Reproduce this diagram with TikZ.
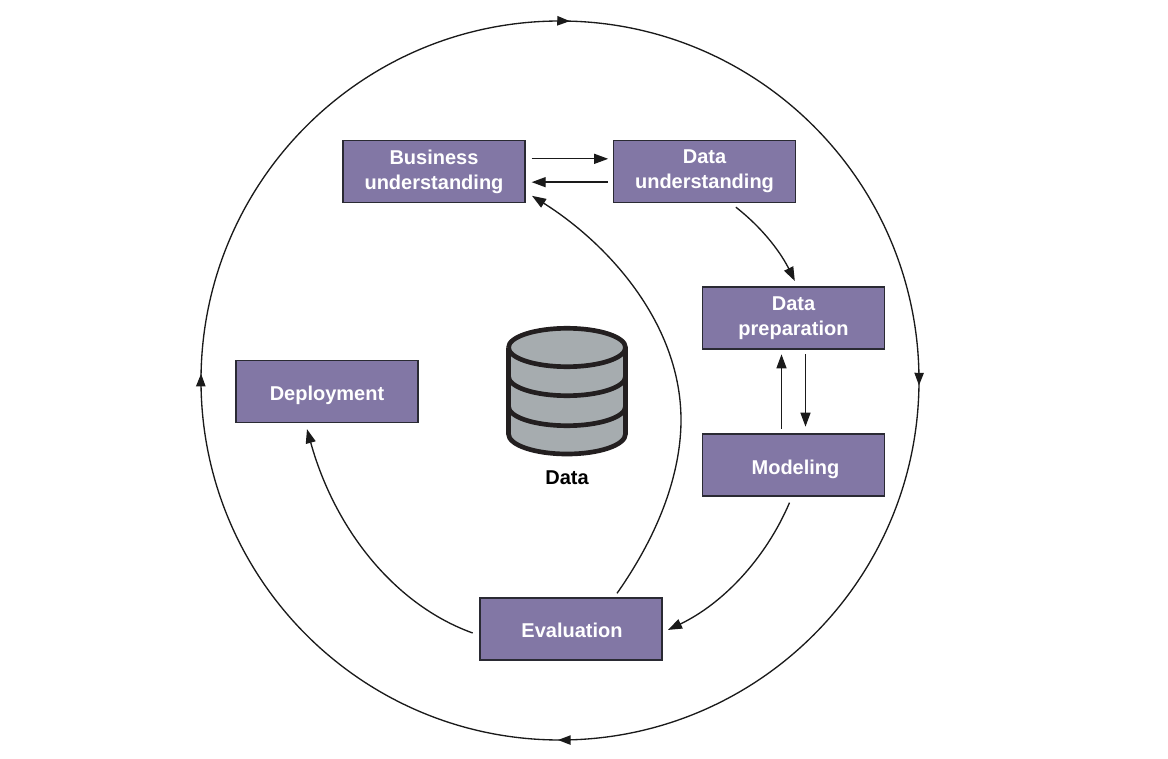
\documentclass[tikz,border=0pt]{standalone}
\usepackage{fontspec}
\setmainfont{Liberation Sans}
\usetikzlibrary{arrows.meta,decorations.markings,calc}
\definecolor{boxfill}{HTML}{8277A5}
\definecolor{boxline}{HTML}{2A2A33}
\definecolor{cylfill}{HTML}{A6ACAF}
\definecolor{cylline}{HTML}{231F20}
\definecolor{inkline}{HTML}{1A1A1A}
\tikzset{
  x=0.75pt,y=-0.75pt,
  stage/.style={draw=boxline,line width=1pt,fill=boxfill,text=white,font=\bfseries\fontsize{15}{18.6}\selectfont,
    minimum width=136.5pt,minimum height=46.5pt,inner sep=0pt,align=center,anchor=center},
  tip/.style={-{Triangle[length=10.5pt,width=7.5pt]}},
  flow/.style={tip,draw=inkline,line width=1pt},
  cylband/.style={draw=cylline,line width=3.5pt},
  ringtip/.style={decoration={markings,
    mark=at position 0.0030 with {\arrow{Triangle[length=9.5pt,width=7pt]}},
    mark=at position 0.2544 with {\arrow{Triangle[length=9.5pt,width=7pt]}},
    mark=at position 0.5022 with {\arrow{Triangle[length=9.5pt,width=7pt]}},
    mark=at position 0.7509 with {\arrow{Triangle[length=9.5pt,width=7pt]}}},postaction={decorate}},
}
\begin{document}
\begin{tikzpicture}
\useasboundingbox (0,0) rectangle (1168,759);
% outer ring: starts at the left, runs clockwise
\draw[draw=inkline,line width=1pt,ringtip]
  (201,380.5) arc[start angle=180,end angle=-180,x radius=359,y radius=-359.5];
% stages
\node[stage] (bu) at (434,171.5) {\raisebox{-0.7pt}{Business}\\\raisebox{-0.7pt}{understanding}};
\node[stage] (du) at (704.5,171.5) {\raisebox{-0.7pt}{Data}\\\raisebox{-0.7pt}{understanding}};
\node[stage] (dp) at (793.5,318) {\raisebox{-0.7pt}{Data}\\\raisebox{-0.7pt}{preparation}};
\node[stage,text height=14.6pt,text depth=0pt] (mo) at (793.5,465) {\hspace{3pt}Modeling};
\node[stage,text height=12pt,text depth=0pt] (ev) at (571,629) {\hspace{1.5pt}Evaluation};
\node[stage,text height=13.6pt,text depth=0pt] (de) at (327,391.5) {Deployment};
% data store
\coordinate (cyl) at (567,347.5);
\fill[cylfill] (508.5,347.5) -- (508.5,434) arc[start angle=180,end angle=0,x radius=58.5,y radius=20] -- (625.5,347.5) arc[start angle=0,end angle=-180,x radius=58.5,y radius=19.2] -- cycle;
\draw[cylband] (508.5,347.5) arc[start angle=180,end angle=-180,x radius=58.5,y radius=19.2];
\draw[cylband] (508.5,347.5) -- (508.5,434) arc[start angle=180,end angle=0,x radius=58.5,y radius=20] -- (625.5,347.5);
\draw[cylband] (508.5,376.5) arc[start angle=180,end angle=0,x radius=58.5,y radius=19.2];
\draw[cylband] (508.5,406.5) arc[start angle=180,end angle=0,x radius=58.5,y radius=19.2];
\node[font=\bfseries\fontsize{15}{16}\selectfont,text=black,inner sep=0pt] (dl) at (567,478) {Data};
% connectors
\draw[flow] ([xshift=4.5pt,yshift=9.5pt]bu.east) -- ([xshift=-3.5pt,yshift=9.5pt]du.west);
\draw[flow] ([xshift=-4pt,yshift=-8pt]du.west) -- ([xshift=4.5pt,yshift=-8pt]bu.east);
\draw[flow] ([xshift=23.5pt,yshift=-3pt]du.south) .. controls (765,230) and (782,255) .. ([xshift=1pt,yshift=4pt]dp.north);
\draw[flow] ([xshift=-9pt,yshift=3.5pt]mo.north) -- ([xshift=-9pt,yshift=-3.5pt]dp.south);
\draw[flow] ([xshift=9pt,yshift=-3.5pt]dp.south) -- ([xshift=9pt,yshift=5pt]mo.north);
\draw[flow] ([xshift=-3pt,yshift=-4.5pt]mo.south) .. controls (765,560) and (722,604) .. ([xshift=4pt,yshift=-0.7pt]ev.east);
\draw[flow] ([xshift=34.5pt,yshift=3pt]ev.north) .. controls (665,525) and (681,465) .. (681,420) .. controls (681,325) and (610,245) .. ([xshift=73.5pt,yshift=5.5pt]bu.south);
\draw[flow] ([xshift=-5pt,yshift=-3pt]ev.west) .. controls (395,605) and (335,530) .. ([xshift=-15pt,yshift=-4.5pt]de.south);
\end{tikzpicture}
\end{document}
